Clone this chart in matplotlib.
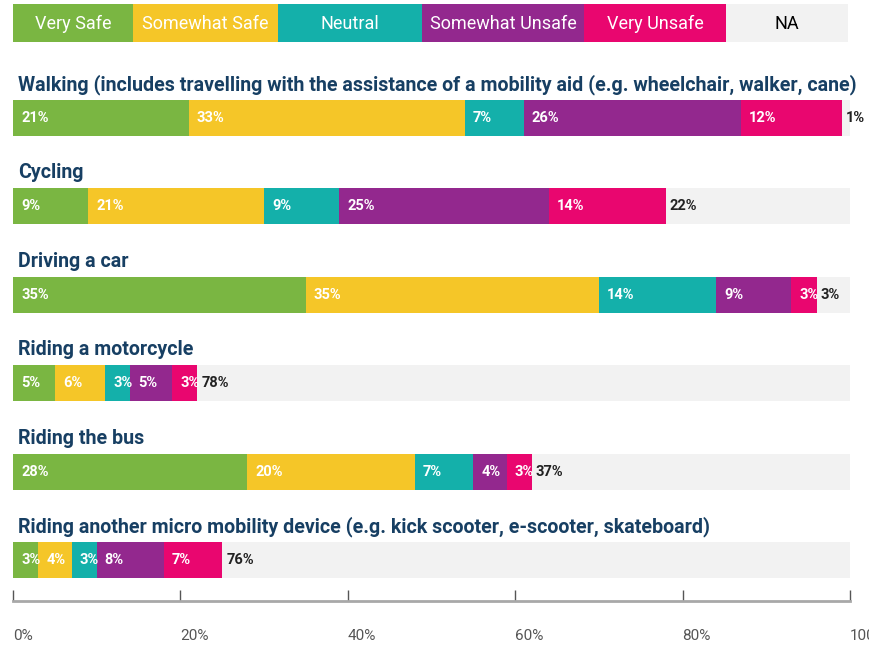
import matplotlib.pyplot as plt

# data (percent)
categories = [
    "Walking (includes travelling with the assistance of a mobility aid (e.g. wheelchair, walker, cane)",
    "Cycling",
    "Driving a car",
    "Riding a motorcycle",
    "Riding the bus",
    "Riding another micro mobility device (e.g. kick scooter, e-scooter, skateboard)",
]
very_safe = [21, 9, 35, 5, 28, 3]
somewhat_safe = [33, 21, 35, 6, 20, 4]
neutral = [7, 9, 14, 3, 7, 3]
somewhat_unsafe = [26, 25, 9, 5, 4, 8]
very_unsafe = [12, 14, 3, 3, 3, 7]
na = [1, 22, 3, 78, 37, 76]

legend_labels = ["Very Safe", "Somewhat Safe", "Neutral", "Somewhat Unsafe", "Very Unsafe", "NA"]
tick_values = [0, 20, 40, 60, 80, 100]
tick_labels = ["0%", "20%", "40%", "60%", "80%", "100%"]

# styles
colors = ["#7ab642", "#f5c628", "#14b0aa", "#93288e", "#e9066f"]
na_color = "#f2f2f2"
title_color = "#173f63"
legend_widths = [120, 145, 144, 162, 142, 122]  # px

W, H = 870, 647
x0, x1 = 13, 850
px = (x1 - x0) / 100.0  # pixels per percent

fig = plt.figure(figsize=(W / 100, H / 100), dpi=100)
ax = fig.add_axes([x0 / W, 0, (x1 - x0) / W, 1])
ax.set_xlim(0, 100)
ax.set_ylim(H, 0)
ax.axis("off")

# legend strip on top
left = 0
for lab, w, c in zip(legend_labels, legend_widths, colors + [na_color]):
    ax.barh(23, w / px, left=left, height=38, color=c, linewidth=0)
    ax.text(left + w / px / 2, 24, lab, ha="center", va="center",
            fontsize=13, family="Roboto",
            color="black" if lab == "NA" else "white")
    left += w / px

series = [very_safe, somewhat_safe, neutral, somewhat_unsafe, very_unsafe]
first_y = 118
pitch = 88.4
bar_h = 36

for i, cat in enumerate(categories):
    y = first_y + i * pitch
    # grey track
    ax.barh(y, 100, height=bar_h, color=na_color, linewidth=0)
    ax.text(5 / px, y - bar_h / 2 - 10, cat, ha="left", va="baseline",
            fontsize=14.1, fontweight="bold", family="Roboto", color=title_color)
    left = 0
    for s, c in zip(series, colors):
        v = s[i]
        ax.barh(y, v, left=left, height=bar_h, color=c, linewidth=0)
        ax.text(left + 8 / px, y, f"{v}%", ha="left", va="center",
                fontsize=10.5, fontweight="bold", family="Roboto", color="white")
        left += v
    ax.text(left + 4 / px, y, f"{na[i]}%", ha="left", va="center",
            fontsize=10.5, fontweight="bold", family="Roboto", color="#222222")

# scale axis at the bottom
axis_y = 601
sax = fig.add_axes([x0 / W, (H - axis_y) / H, (x1 - x0) / W, 0.001])
sax.set_xlim(0, 100)
sax.set_yticks([])
for sp in ["top", "left", "right"]:
    sax.spines[sp].set_visible(False)
sax.spines["bottom"].set_color("#a8a8a8")
sax.spines["bottom"].set_linewidth(2)
sax.set_xticks(tick_values)
sax.set_xticklabels(tick_labels, ha="left", family="Roboto", fontsize=11, color="#555555")
sax.tick_params(axis="x", direction="in", length=8, width=1, color="#555555", pad=20)
sax.patch.set_visible(False)

fig.savefig("out.png", dpi=100)
